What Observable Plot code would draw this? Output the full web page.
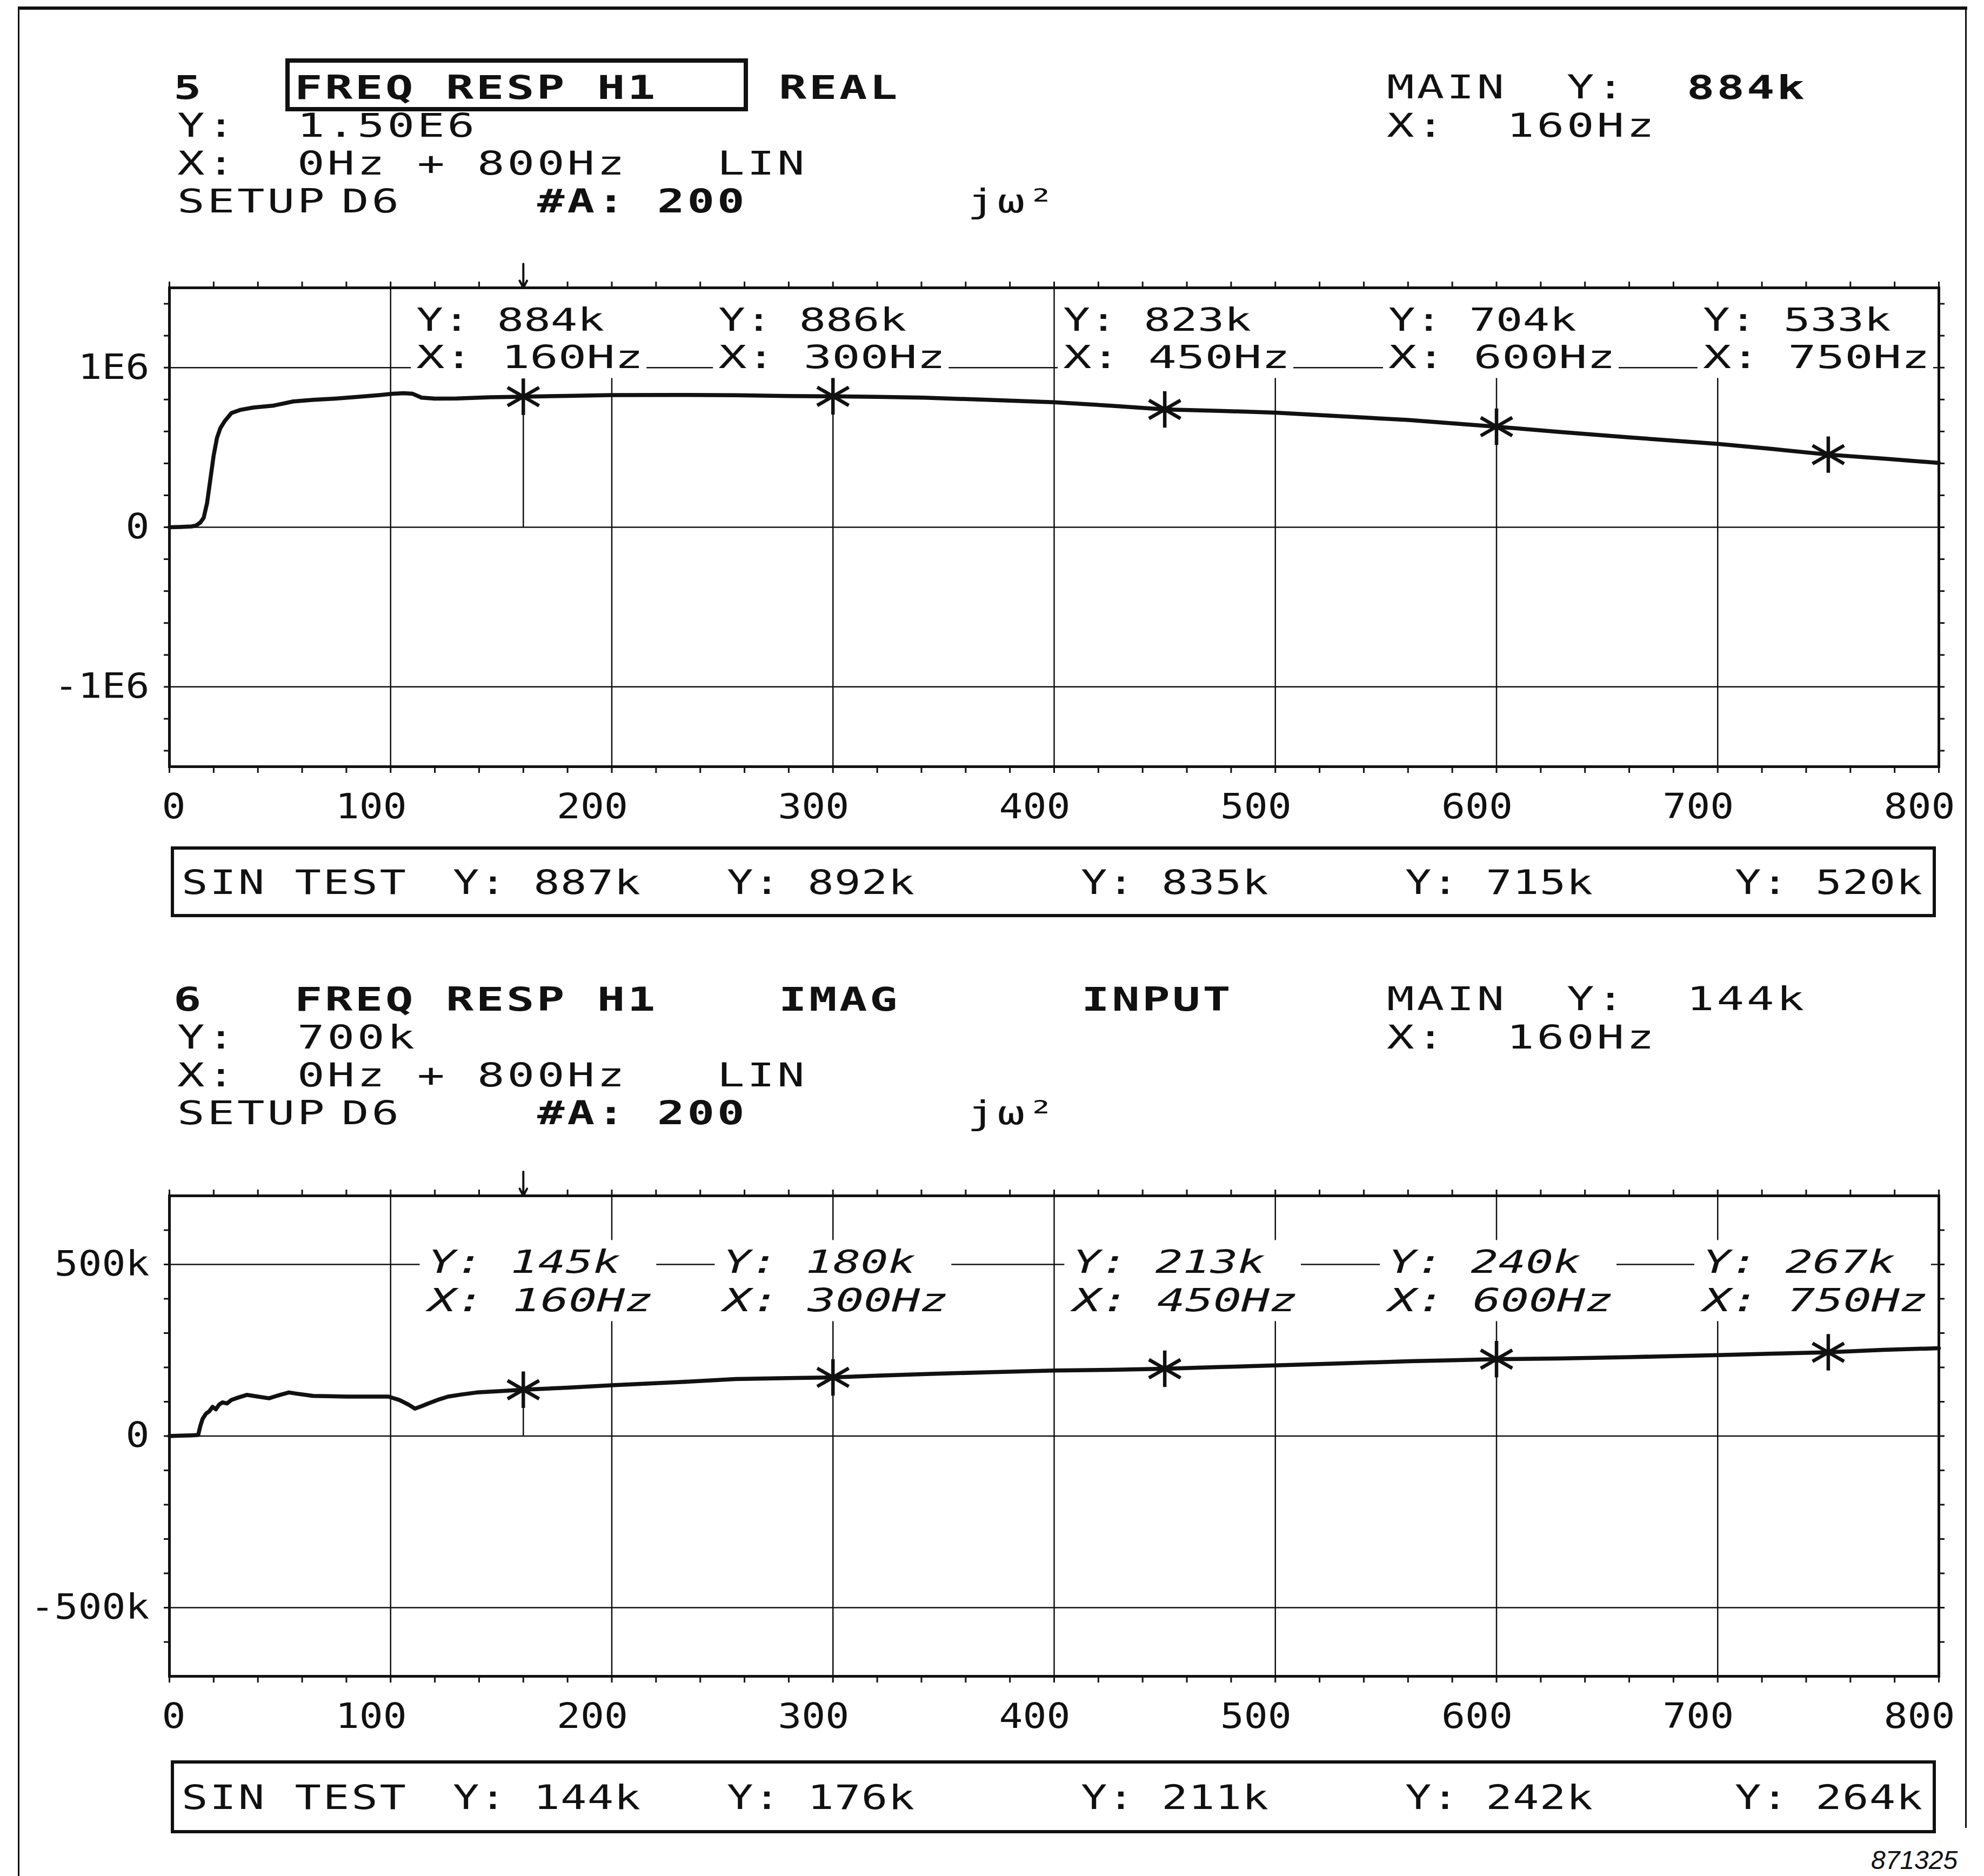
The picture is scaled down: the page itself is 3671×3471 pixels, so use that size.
<!DOCTYPE html>
<html>
<head>
<meta charset="utf-8">
<title>FREQ RESP H1</title>
<script src="https://cdn.jsdelivr.net/npm/d3@7"></script>
<script src="https://cdn.jsdelivr.net/npm/@observablehq/plot@0.6"></script>
<style>
html, body { margin:0; padding:0; background:#fff; }
#page { position:relative; width:3671px; height:3471px; overflow:hidden; background:#fff; color:#111; }
.t { position:absolute; white-space:pre; margin:0; padding:0; color:#111; transform-origin:0 50%; }
.box { position:absolute; box-sizing:border-box; border:6px solid #111; }
.rule { position:absolute; background:#111; z-index:5; }
.chart { position:absolute; left:0; width:3671px; }
</style>
</head>
<body>
<div id="page"></div>
<script>
// ---------------- DATA ----------------
const xTicks = [0, 100, 200, 300, 400, 500, 600, 700, 800];
const markerHz = [160, 300, 450, 600, 750];

// Trace 5 : FREQ RESP H1, REAL part (values in k)
const realHz = [0,5,10,12,14,15.5,17,18.5,20,21.5,23,25,28,32,38,47,56,65,75,86,95,101,106,110,114,120,130,145,160,180,200,230,256,280,300,320,341,370,400,425,450,475,500,530,560,580,600,628,660,700,725,750,775,800];
const realK  = [0,2,5,10,30,60,150,300,450,560,620,665,715,735,750,762,788,798,806,818,828,836,840,836,812,806,807,814,818,823,828,829,827,822,820,817,812,798,783,762,738,729,718,695,672,651,630,598,563,522,490,455,430,403];
const realMarkerY = ["884k", "886k", "823k", "704k", "533k"];
const realSinY = ["887k", "892k", "835k", "715k", "520k"];
const realYTicks = [-1000, 0, 1000];
const realYTickText = ["-1E6", "0", "1E6"];

// Trace 6 : FREQ RESP H1, IMAG part (values in k)
const imagHz = [0,5,10,13,14,15,16.5,18,19.5,21,22.5,24,26,28,31,35,40,45,50,54,58,65,72,80,90,99,104,108,111,114,117,122,126,132,139,150,160,180,200,230,256,280,300,320,344,370,400,425,450,475,500,530,561,580,600,628,660,700,725,750,775,800];
const imagK  = [0,1,2,3,30,50,65,72,85,78,92,98,95,105,112,120,115,110,120,127,123,117,116,115,115,115,105,92,80,87,95,107,115,121,127,131,135,141,148,157,166,169,171,176,181,186,191,193,196,201,206,212,218,221,224,226,230,236,240,244,251,256];
const imagMarkerY = ["145k", "180k", "213k", "240k", "267k"];
const imagSinY = ["144k", "176k", "211k", "242k", "264k"];
const imagYTicks = [-500, 0, 500];
const imagYTickText = ["-500k", "0", "500k"];

// header texts
const realHead = {line1: "5   FREQ RESP H1    REAL", main: "MAIN  Y:  ", mainY: "884k", scale: "Y:  1.50E6", mainX: "X:  160Hz"};
const imagHead = {line1: "6   FREQ RESP H1    IMAG      INPUT", main: "MAIN  Y:  ", mainY: "144k", scale: "Y:  700k", mainX: "X:  160Hz"};
const xRangeText = "X:  0Hz + 800Hz   LIN";
const setupWords = ["SETUP", "D6", "#A: 200", "jω²"];

// ---------------- LAYOUT HELPERS ----------------
const page = document.getElementById("page");
const MONO = "'DejaVu Sans Mono', 'Liberation Mono', monospace";
const ink = "#111";

function txt(str, x, yc, o = {}) {
  const fs = o.fs || 60;
  const sx = o.sx || 1;
  const el = document.createElement("div");
  el.className = "t";
  el.textContent = str;
  el.style.fontFamily = o.family || MONO;
  el.style.fontSize = fs + "px";
  el.style.fontWeight = o.bold ? "bold" : "normal";
  el.style.fontStyle = o.italic ? "italic" : "normal";
  el.style.lineHeight = fs + "px";
  el.style.left = x + "px";
  el.style.top = (yc - 0.4815 * fs) + "px";
  page.appendChild(el);
  const n = Array.from(str).length;
  if (o.pitch) el.style.letterSpacing = (o.pitch / sx - 0.602 * fs) + "px";
  else if (o.width && n > 1) {
    const w = el.getBoundingClientRect().width - 0.1 * fs;
    el.style.letterSpacing = ((o.width / sx - w) / (n - 1)) + "px";
  }
  if (sx !== 1) el.style.transform = `scaleX(${sx})`;
  return el;
}
function div(cls, x, y, w, h) {
  const el = document.createElement("div");
  el.className = cls;
  Object.assign(el.style, {left: x + "px", top: y + "px", width: w + "px", height: h + "px"});
  page.appendChild(el);
  return el;
}

const HSX = 1.4;
function header(head, dy, boxed) {
  const L = [160, 231, 301, 371].map(v => v + dy);
  txt(head.line1, 321, L[0], {fs: 61, bold: true, pitch: 56, sx: HSX});
  txt(head.main, 2566, L[0], {fs: 60, pitch: 55.5, sx: HSX});
  txt(head.mainY, 3121, L[0], {fs: boxed ? 61 : 60, bold: boxed, pitch: 55.5, sx: HSX});
  txt(head.scale, 328, L[1], {fs: 60, pitch: 55.5, sx: HSX});
  txt(head.mainX, 2566, L[1], {fs: 60, pitch: 55.5, sx: HSX});
  txt(xRangeText, 328, L[2], {fs: 60, pitch: 55.5, sx: HSX});
  txt(setupWords[0], 328, L[3], {fs: 60, pitch: 55.5, sx: HSX});
  txt(setupWords[1], 632, L[3], {fs: 60, pitch: 55.5, sx: HSX});
  txt(setupWords[2], 994, L[3], {fs: 60, bold: true, pitch: 55.5, sx: HSX});
  txt(setupWords[3], 1790, L[3], {fs: 60, pitch: 55.5, sx: HSX});
  if (boxed) {
    const b = div("box", 528, 108 + dy, 856, 98);
    b.style.borderWidth = "8px";
  }
}

function sinBox(vals, top, h) {
  div("box", 316, top, 3266, h);
  const yc = top + h / 2;
  txt("SIN TEST", 336, yc, {fs: 62, width: 407, sx: 1.3});
  const slots = [838, 1345, 2000, 2600, 3210];
  vals.forEach((v, i) => txt("Y: " + v, slots[i], yc, {fs: 62, width: 339, sx: 1.3}));
}

function fitSvgText(t, len) {
  t.setAttribute("textLength", len);
  t.setAttribute("lengthAdjust", "spacingAndGlyphs");
  t.style.letterSpacing = "0px";
}

function chart(cfg) {
  const pts = cfg.hz.map((f, i) => ({f, v: cfg.val[i]}));
  const valAt = f => cfg.val[cfg.hz.indexOf(f)];
  const [d0, d1] = cfg.yDomain;
  const wrap = document.createElement("div");
  wrap.className = "chart";
  wrap.style.top = cfg.top + "px";
  page.appendChild(wrap);
  const labelFont = {fontSize: 59, fontStyle: cfg.italic ? "italic" : "normal", fill: ink,
    frameAnchor: "top", textAnchor: "start", lineAnchor: "middle"};
  const labelMarks = markerHz.flatMap((f, i) => [
    Plot.text([f], {...labelFont, x: d => d, dy: cfg.rowDy[0], dx: cfg.labelDx[i], text: () => "Y: " + cfg.markerY[i]}),
    Plot.text([f], {...labelFont, x: d => d, dy: cfg.rowDy[1], dx: cfg.labelDx[i], text: d => "X: " + d + "Hz"})
  ]);
  const svg = Plot.plot({
    width: 3671, height: cfg.height,
    marginLeft: 313, marginRight: 84, marginTop: 92, marginBottom: 110,
    x: {domain: [0, 800]},
    y: {domain: cfg.yDomain},
    style: {fontFamily: MONO, fontSize: "64px", background: "transparent", color: ink, overflow: "visible"},
    marks: [
      Plot.gridX(xTicks.slice(1, -1), {stroke: ink, strokeOpacity: 1, strokeWidth: 2.5}),
      Plot.gridY(cfg.yTicks, {stroke: ink, strokeOpacity: 1, strokeWidth: 2.5}),
      Plot.frame({stroke: ink, strokeWidth: 5}),
      Plot.axisX(d3.range(0, 801, 20), {anchor: "top", tickSize: 12, fill: "none", label: null, stroke: ink, strokeWidth: 3}),
      Plot.axisX(d3.range(0, 801, 20), {anchor: "bottom", tickSize: 12, fill: "none", label: null, stroke: ink, strokeWidth: 3}),
      Plot.axisY(cfg.minorY, {anchor: "left", tickSize: 10, fill: "none", label: null, stroke: ink, strokeWidth: 3}),
      Plot.axisY(cfg.minorY, {anchor: "right", tickSize: 10, fill: "none", label: null, stroke: ink, strokeWidth: 3}),
      Plot.axisX(xTicks, {anchor: "bottom", tickSize: 0, tickPadding: 50, textAnchor: "end", dx: 30, label: null, fill: ink, tickFormat: d => String(d)}),
      Plot.axisY(cfg.yTicks, {anchor: "left", tickSize: 0, tickPadding: 37, label: null, fill: ink,
        tickFormat: d => cfg.yTickText[cfg.yTicks.indexOf(d)]}),
      Plot.ruleX([markerHz[0]], {x: d => d, y1: 0, y2: d => valAt(d), stroke: ink, strokeWidth: 2.5}),
      Plot.line(pts, {x: "f", y: "v", stroke: ink, strokeWidth: 7.5, strokeLinejoin: "round", strokeLinecap: "round"}),
      Plot.dot(markerHz, {x: d => d, y: d => valAt(d), symbol: "asterisk", r: 32, stroke: ink, strokeWidth: 6.5}),
      ...labelMarks,
      Plot.arrow([markerHz[0]], {x1: d => d, x2: d => d, y1: () => d1 + (d1 - d0) * 0.05, y2: () => d1,
        stroke: ink, strokeWidth: 4, headLength: 12, headAngle: 55, bend: 0})
    ]
  });
  wrap.appendChild(svg);

  // wide plotter-style glyphs for tick labels
  svg.querySelectorAll('[aria-label="x-axis tick label"] text, [aria-label="y-axis tick label"] text')
    .forEach(t => fitSvgText(t, Array.from(t.textContent).length * 44));

  // fit marker labels and mask the grid behind them (white label fields, as on the plotter)
  const ns = "http://www.w3.org/2000/svg";
  const all = Array.from(svg.querySelectorAll("text"));
  const yt = all.filter(t => t.textContent.startsWith("Y: "));
  const xt = all.filter(t => t.textContent.startsWith("X: "));
  yt.forEach(t => fitSvgText(t, cfg.rowW[0]));
  xt.forEach(t => fitSvgText(t, cfg.rowW[1]));
  const sr = svg.getBoundingClientRect();
  const g = document.createElementNS(ns, "g");
  yt.forEach((t, i) => {
    const a = t.getBoundingClientRect(), b = xt[i].getBoundingClientRect();
    const x0 = Math.min(a.left, b.left) - sr.left - 10;
    const x1 = Math.max(a.right, b.right) - sr.left + 6;
    let y0 = Math.min(a.top, b.top) - sr.top - 6;
    const y1 = Math.max(a.bottom, b.bottom) - sr.top + 4;
    if (cfg.maskToFrame) y0 = 95;
    const r = document.createElementNS(ns, "rect");
    r.setAttribute("x", x0); r.setAttribute("y", y0);
    r.setAttribute("width", x1 - x0); r.setAttribute("height", y1 - y0);
    r.setAttribute("fill", "#fff");
    g.appendChild(r);
  });
  const frame = svg.querySelector('[aria-label="frame"]');
  if (frame) frame.parentNode.insertBefore(g, frame);
  else svg.insertBefore(g, svg.querySelector('[aria-label="line"]'));
}

// ---------------- BUILD ----------------
header(realHead, 0, true);
chart({top: 440, height: 1088, hz: realHz, val: realK, yDomain: [-1500, 1500],
  yTicks: realYTicks, yTickText: realYTickText, minorY: d3.range(-1400, 1401, 200),
  markerY: realMarkerY, rowDy: [61, 130], labelDx: [-198, -212, -188, -200, -232], rowW: [348, 420],
  italic: false, maskToFrame: true});
sinBox(realSinY, 1566, 131);

header(imagHead, 1687, false);
chart({top: 2120, height: 1091, hz: imagHz, val: imagK, yDomain: [-700, 700],
  yTicks: imagYTicks, yTickText: imagYTickText, minorY: d3.range(-600, 601, 100),
  markerY: imagMarkerY, rowDy: [124, 195], labelDx: [-176, -203, -170, -200, -232], rowW: [356, 416],
  italic: true, maskToFrame: false});
sinBox(imagSinY, 3257, 135);

// sheet border and reference number
div("rule", 33, 12, 3607, 6);
div("rule", 33, 12, 3, 3459);
div("rule", 3636, 12, 3, 3370);
txt("871325", 3462, 3441, {family: "'Liberation Sans', Arial, sans-serif", fs: 48, italic: true});
</script>
</body>
</html>
